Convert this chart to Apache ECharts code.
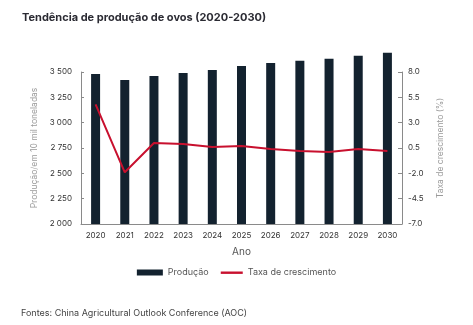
<!DOCTYPE html>
<html>
<head>
<meta charset="utf-8">
<script src="https://cdn.jsdelivr.net/npm/echarts@6/dist/echarts.min.js"></script>
<style>
  html, body { margin: 0; padding: 0; background: #ffffff; }
  #chart { width: 473px; height: 325px; }
</style>
</head>
<body>
<div id="chart"></div>
<script>
// Egg production trend, 2020-2030
const years = ['2020', '2021', '2022', '2023', '2024', '2025', '2026', '2027', '2028', '2029', '2030'];
// production, 10 000 tonnes
const production = [3480, 3420, 3460, 3490, 3520, 3560, 3590, 3610, 3630, 3660, 3690];
// growth rate, %
const growthRate = [4.8, -1.9, 1.0, 0.9, 0.6, 0.7, 0.4, 0.2, 0.1, 0.4, 0.2];
// left-axis tick values and right-axis tick values
const prodTicks = [2000, 2250, 2500, 2750, 3000, 3250, 3500];
const rateTicks = [-7, -4.5, -2, 0.5, 3, 5.5, 8];

const FONT = 'Inter, "Open Sans", sans-serif';
const BAR = '#13222f';
const RED = '#c8102e';
const AXIS = '#8a8a8a';

// plot area: the labelled axes run from 2000 to 3500 over 152 px;
// bars may rise above 3500, so they sit on a taller grid with the same scale
const PLOT_LEFT = 81, PLOT_RIGHT = 71, PLOT_BOTTOM_Y = 224, PLOT_H = 152;
const PROD_MIN = 2000, PROD_MAX = 3500, PROD_ROOM = 3700;
const pxPerUnit = PLOT_H / (PROD_MAX - PROD_MIN);
const barGridH = (PROD_ROOM - PROD_MIN) * pxPerUnit;

const chart = echarts.init(document.getElementById('chart'), null, { renderer: 'canvas' });

const thousands = v => String(v).replace(/\B(?=(\d{3})+(?!\d))/g, ' ');

chart.setOption({
  animation: false,
  textStyle: { fontFamily: FONT },
  title: [
    {
      text: 'Tendência de produção de ovos (2020-2030)',
      left: 17, top: 7,
      textStyle: { fontFamily: FONT, fontSize: 11, fontWeight: 'bold', color: '#2b2b33' }
    },
    {
      text: 'Fontes: China Agricultural Outlook Conference (AOC)',
      left: 16, top: 304,
      textStyle: { fontFamily: FONT, fontSize: 9, fontWeight: 'normal', color: '#444444' }
    }
  ],
  legend: {
    top: 263, left: 'center',
    itemWidth: 26, itemHeight: 6, itemGap: 8,
    textStyle: { fontFamily: FONT, fontSize: 9, color: '#555555' },
    data: [
      { name: 'Produção', icon: 'rect' },
      { name: 'Taxa de crescimento', icon: 'path://M0,0 M26,6 M4,2 L26,2 L26,4.4 L4,4.4 Z' }
    ]
  },
  grid: [
    // bars
    { left: PLOT_LEFT, right: PLOT_RIGHT, top: PLOT_BOTTOM_Y - barGridH, height: barGridH },
    // labelled axes and growth line
    { left: PLOT_LEFT, right: PLOT_RIGHT, top: PLOT_BOTTOM_Y - PLOT_H, height: PLOT_H }
  ],
  xAxis: [
    {
      type: 'category',
      gridIndex: 0,
      data: years,
      boundaryGap: true,
      name: 'Ano',
      nameLocation: 'middle',
      nameGap: 23,
      nameTextStyle: { fontFamily: FONT, fontSize: 10, color: '#555555' },
      axisLine: { onZero: false, lineStyle: { color: AXIS, width: 1 } },
      axisTick: { inside: true, length: 4, lineStyle: { color: AXIS } },
      axisLabel: { fontFamily: FONT, fontSize: 8, color: '#333333', margin: 8 }
    },
    {
      type: 'category',
      gridIndex: 1,
      data: years,
      boundaryGap: true,
      show: false
    }
  ],
  yAxis: [
    {
      type: 'value',
      gridIndex: 0,
      min: PROD_MIN, max: PROD_ROOM,
      show: false
    },
    {
      type: 'value',
      gridIndex: 1,
      position: 'left',
      min: PROD_MIN, max: PROD_MAX, interval: 250,
      name: 'Produção/em 10 mil toneladas',
      nameLocation: 'middle',
      nameRotate: 90,
      nameGap: 42,
      nameTextStyle: { fontFamily: FONT, fontSize: 8.5, color: '#9a9a9a' },
      axisLine: { show: true, onZero: false, lineStyle: { color: AXIS, width: 1 } },
      axisTick: { show: true, inside: true, length: 3, customValues: prodTicks, lineStyle: { color: AXIS } },
      splitLine: { show: false },
      axisLabel: {
        fontFamily: FONT, fontSize: 8, color: '#333333', margin: 9,
        customValues: prodTicks,
        formatter: thousands
      }
    },
    {
      type: 'value',
      gridIndex: 1,
      position: 'right',
      min: -7, max: 8,
      name: 'Taxa de crescimento (%)',
      nameLocation: 'middle',
      nameRotate: 90,
      nameGap: 34,
      nameTextStyle: { fontFamily: FONT, fontSize: 8.5, color: '#9a9a9a' },
      axisLine: { show: true, onZero: false, lineStyle: { color: AXIS, width: 1 } },
      axisTick: { show: true, inside: true, length: 4, customValues: rateTicks, lineStyle: { color: AXIS } },
      splitLine: { show: false },
      axisLabel: {
        fontFamily: FONT, fontSize: 8, color: '#333333', margin: 6,
        customValues: rateTicks,
        formatter: v => v.toFixed(1)
      }
    }
  ],
  series: [
    {
      name: 'Produção',
      type: 'bar',
      xAxisIndex: 0,
      yAxisIndex: 0,
      data: production,
      barWidth: 9,
      itemStyle: { color: BAR }
    },
    {
      name: 'Taxa de crescimento',
      type: 'line',
      xAxisIndex: 1,
      yAxisIndex: 2,
      data: growthRate,
      symbol: 'none',
      showSymbol: false,
      z: 3,
      lineStyle: { color: RED, width: 2 },
      itemStyle: { color: RED }
    }
  ]
});
</script>
</body>
</html>
